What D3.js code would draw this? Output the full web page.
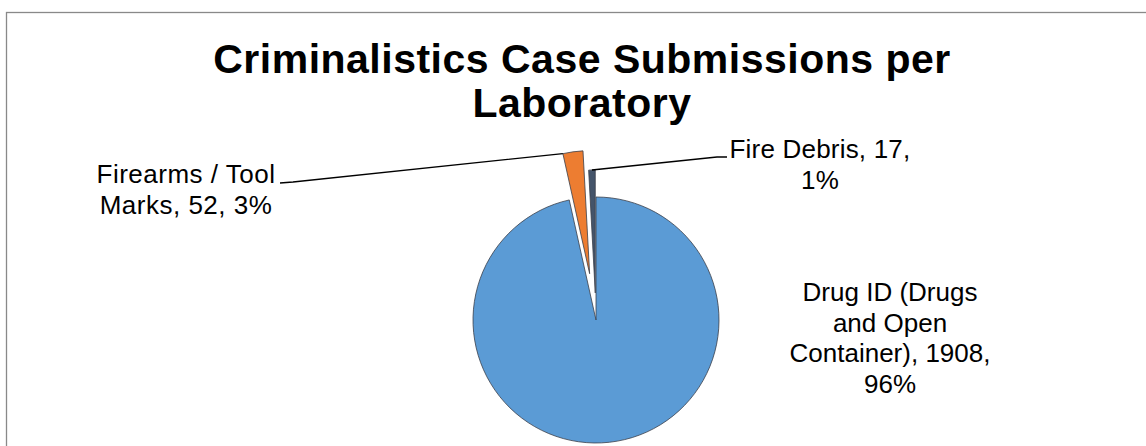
<!DOCTYPE html>
<html>
<head>
<meta charset="utf-8">
<script src="https://cdn.jsdelivr.net/npm/d3@7"></script>
<style>
  html, body { margin: 0; padding: 0; background: #fff; }
  svg { display: block; font-family: "Liberation Sans", Arial, sans-serif; }
</style>
</head>
<body>
<svg id="chart" width="1146" height="446"></svg>
<script>
// chart data
const categories = ['Drug ID (Drugs and Open Container)', 'Firearms / Tool Marks', 'Fire Debris'];
const values = [1908, 52, 17];
const percentLabels = ['96%', '3%', '1%'];
const titleLines = ['Criminalistics Case Submissions per', 'Laboratory'];

const colors = ['#5b9bd5', '#ed7d31', '#44546a'];
const explode = [0, 0.38, 0.22]; // share of radius each slice is pulled out

// where the data labels sit (center x, first baseline) and where leaders run
const labelLayout = [
  { x: 890, y: 301, spacing: 0, leader: null },
  { x: 186, y: 183, spacing: 0.5, leader: { from: [280, 183], elbow: [293, 182], at: 0 } },
  { x: 820, y: 158, spacing: 0.2, leader: { from: [727, 157], elbow: [717, 157], at: 0.5 } }
];

const width = 1146;
const height = 446;
const cx = 596;
const cy = 320;
const radius = 123;

const svg = d3.select('#chart');

// chart area frame (runs off the right and bottom of the picture)
svg.append('rect')
  .attr('x', 6.5)
  .attr('y', 12.5)
  .attr('width', 1160)
  .attr('height', 460)
  .attr('fill', '#fff')
  .attr('stroke', '#898989')
  .attr('stroke-width', 1.3);

// title
svg.append('g')
  .attr('text-anchor', 'middle')
  .attr('font-weight', 'bold')
  .attr('font-size', 41)
  .attr('letter-spacing', 0.5)
  .selectAll('text')
  .data(titleLines)
  .join('text')
  .attr('x', 582)
  .attr('y', (d, i) => 73 + i * 44)
  .text(d => d);

const data = categories.map((name, i) => ({ name, value: values[i], pct: percentLabels[i], i }));

const pie = d3.pie()
  .value(d => d.value)
  .sort(null)
  .startAngle(0)
  .endAngle(2 * Math.PI);

const arc = d3.arc()
  .innerRadius(0)
  .outerRadius(radius);

const arcs = pie(data);

const offset = d => {
  const mid = (d.startAngle + d.endAngle) / 2;
  const r = explode[d.data.i] * radius;
  return [Math.sin(mid) * r, -Math.cos(mid) * r];
};

const g = svg.append('g')
  .attr('transform', `translate(${cx},${cy})`);

g.selectAll('path')
  .data(arcs)
  .join('path')
  .attr('transform', d => `translate(${offset(d)})`)
  .attr('d', arc)
  .attr('fill', d => colors[d.data.i])
  .attr('stroke', '#3a3f4a')
  .attr('stroke-width', 0.8)
  .attr('stroke-linejoin', 'round');

// leader lines
arcs.forEach(d => {
  const lay = labelLayout[d.data.i];
  if (!lay.leader) return;
  const [ox, oy] = offset(d);
  const a = d.startAngle + lay.leader.at * (d.endAngle - d.startAngle);
  const px = cx + ox + Math.sin(a) * radius;
  const py = cy + oy - Math.cos(a) * radius;
  svg.append('polyline')
    .attr('points', [lay.leader.from, lay.leader.elbow, [px, py]].map(p => p.join(',')).join(' '))
    .attr('fill', 'none')
    .attr('stroke', '#000')
    .attr('stroke-width', 1.3);
});

// data labels, wrapped like Excel does
const labels = svg.append('g')
  .attr('text-anchor', 'middle')
  .attr('font-size', 26)
  .attr('fill', '#000');

const maxWidth = 212;
const lineHeight = 30.7;

arcs.forEach(d => {
  const lay = labelLayout[d.data.i];
  const words = `${d.data.name}, ${d.data.value}, ${d.data.pct}`.split(' ');
  const t = labels.append('text').attr('letter-spacing', lay.spacing);
  const lines = [];
  let line = [];
  words.forEach(w => {
    line.push(w);
    t.text(line.join(' '));
    if (t.node().getComputedTextLength() > maxWidth && line.length > 1) {
      line.pop();
      lines.push(line.join(' '));
      line = [w];
    }
  });
  lines.push(line.join(' '));
  t.text(null);
  t.selectAll('tspan')
    .data(lines)
    .join('tspan')
    .attr('x', lay.x)
    .attr('y', (s, i) => lay.y + i * lineHeight)
    .text(s => s);
});
</script>
</body>
</html>
